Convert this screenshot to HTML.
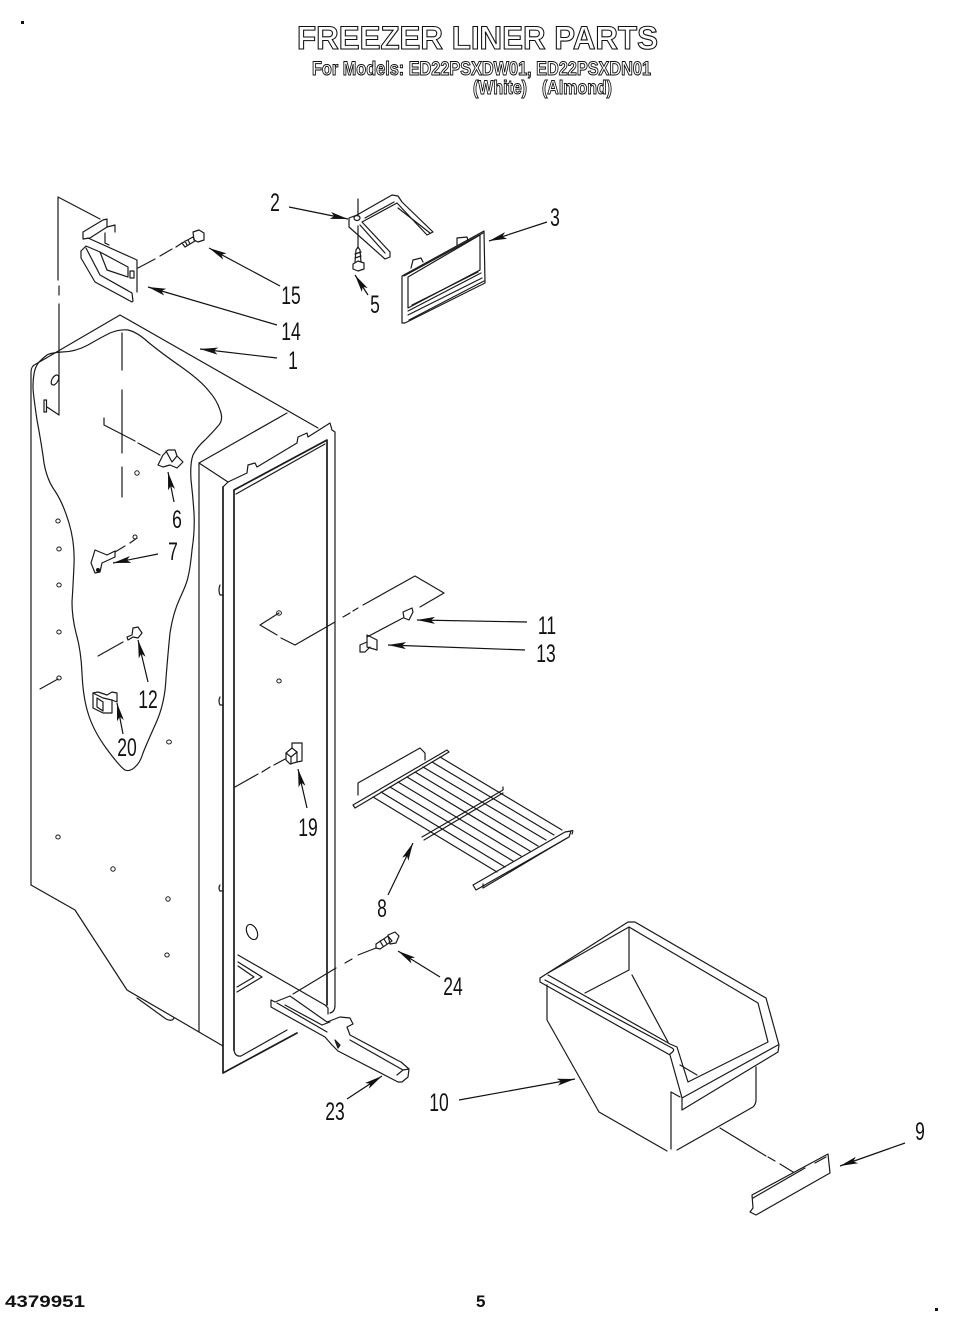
<!DOCTYPE html>
<html><head><meta charset="utf-8"><style>
html,body{margin:0;padding:0;background:#fff}
svg{display:block}
.l{fill:none;stroke:#1a1a1a;stroke-width:1.2;stroke-linejoin:round;stroke-linecap:round}
.t{stroke-width:1.7}
.w{fill:#fff}
.a{fill:none;stroke:#111;stroke-width:1.2;marker-end:url(#h)}
.n{font:25px "Liberation Sans",sans-serif;fill:#111;text-anchor:middle}
.o{font-family:"Liberation Sans",sans-serif;font-weight:700;fill:#fff;stroke:#111}
.b{font:700 17px "Liberation Sans",sans-serif;fill:#111}
</style></head><body>
<svg width="959" height="1333" viewBox="0 0 959 1333" xmlns="http://www.w3.org/2000/svg">
<defs><marker id="h" markerUnits="userSpaceOnUse" markerWidth="19" markerHeight="9" refX="18" refY="4.5" orient="auto"><path d="M0,1 L18,4.5 L0,8 L4,4.5z" fill="#111"/></marker></defs>

<!-- title -->
<text class="o" x="297" y="49" font-size="32" stroke-width="1.1" textLength="361" lengthAdjust="spacingAndGlyphs">FREEZER LINER PARTS</text>
<text class="o" x="312" y="75" font-size="19" stroke-width="1" textLength="339" lengthAdjust="spacingAndGlyphs">For Models: ED22PSXDW01, ED22PSXDN01</text>
<text class="o" x="473" y="94" font-size="19" stroke-width="1" textLength="54" lengthAdjust="spacingAndGlyphs">(White)</text>
<text class="o" x="542" y="94" font-size="19" stroke-width="1" textLength="70" lengthAdjust="spacingAndGlyphs">(Almond)</text>
<rect x="21" y="21" width="3" height="3" fill="#111"/><rect x="935" y="1308" width="3" height="3" fill="#111"/>
<text class="b" x="5" y="1307" textLength="80" lengthAdjust="spacingAndGlyphs">4379951</text>
<text class="b" x="476" y="1307">5</text>

<!-- cabinet -->
<g class="l">
<path d="M31,885 V372 Q31,366 36,364 L120,315 L318,428"/>
<path d="M31,885 L75,910 L127,990 L223,1046"/>
<path d="M137,998 L166,1019 Q172,1022 174,1018"/>
<path d="M199,463 V1032"/>
<path d="M199,463 L287,413 M199,463 L228,482"/>
<path d="M223,487 L228,482 L247,473 L248,465 L255,463 L257,467 L297,443 L298,437 L307,433 L308,437 L330,423 L332,430 L335,432 V1005 Q335,1012 330,1013"/>
<path class="t" d="M223,487 V1073 L297,1033"/>
<path d="M220,585 Q218,590 220,595 H223 M220,697 Q218,701 220,705 H223 M220,885 Q218,888 220,891 H223"/>
<path class="t" d="M234,1050 V490 L327,440 V1005"/>
<path d="M236,494 L325,444"/>
<path d="M234,1050 Q235,1057 241,1056 L287,1030"/>
<path d="M33,387 Q33,380 34,374 Q35,367 39,362 Q43,358 47,355 Q50,353 62,352 Q75,352 88,345 Q100,338 110,333 Q120,329 128,330 Q137,332 148,342 Q160,352 180,366 Q200,380 208,390 Q217,400 220,410 Q224,420 218,426 Q213,432 205,440 Q197,447 193,455 Q190,463 191,480 Q193,497 194,513 Q195,530 192,550 Q190,570 188,577 Q187,583 180,598 Q173,613 170,633 Q168,653 166,678 Q165,703 156,723 Q147,743 143,753 Q140,763 135,767 Q130,772 125,770 Q120,767 106,748 Q93,730 88,713 Q83,697 82,673 Q81,650 76,633 Q72,617 72,602 Q73,587 74,565 Q75,543 69,523 Q63,503 55,491 Q47,480 44,463 Q42,447 37,420 Q33,393 33,387"/>
<!-- recess -->
<path d="M238,955 L325,1005 M238,962 L262,977 L237,992 M238,966 L254,977 L237,987"/>
<ellipse cx="252" cy="932" rx="5" ry="8" transform="rotate(-25 252 932)"/>
<!-- holes -->
<g stroke-width="1">
<ellipse cx="137" cy="473" rx="2.2" ry="2.2"/><ellipse cx="58" cy="521" rx="2.2" ry="2"/><ellipse cx="59" cy="549" rx="2.2" ry="2"/><ellipse cx="59" cy="585" rx="2.2" ry="2"/><ellipse cx="59" cy="632" rx="2.2" ry="2"/><ellipse cx="59" cy="678" rx="2.2" ry="2"/><ellipse cx="279" cy="613" rx="2.4" ry="2.2"/><ellipse cx="279" cy="681" rx="2.2" ry="2"/><ellipse cx="169" cy="742" rx="2.4" ry="2"/><ellipse cx="58" cy="837" rx="2.2" ry="2"/><ellipse cx="113" cy="869" rx="2.2" ry="2.2"/><ellipse cx="168" cy="899" rx="2.2" ry="2.2"/><ellipse cx="167" cy="955" rx="2.2" ry="2"/><ellipse cx="135" cy="537" rx="2" ry="2"/>
</g>
<ellipse cx="55" cy="380" rx="3" ry="5.5" transform="rotate(30 55 380)"/>
<rect x="44" y="400" width="2.5" height="12"/>
<path d="M100,219 L58,197 V280 M59,286 V295 M59,304 V415 L47,407"/>
<path d="M122,333 V370 M122,390 V453 M122,467 V497"/>
<path d="M104,418 V425 L135,441 M138,443 L160,455"/>
<path d="M115,552 L125,546 M130,543 L137,538"/>
<path d="M98,656 L123,642 M40,689 L58,679"/>
<path d="M235,787 L258,774 M262,772 L270,767 M274,765 L287,758"/>
<path d="M260,625 L279,613 M260,625 L277,635 M281,638 L295,645 L335,622 M343,617 L350,613 M353,611 L358,608 M363,605 L415,576 L444,593 L420,607"/>
<path d="M293,994 L336,968 M345,963 L352,959 M358,955 L376,948"/>
</g>

<!-- clip 6 -->
<path class="l w" d="M158,465 L163,455 L168,450 L175,450 L177,456 L183,462 L177,468 L170,465 L163,467z"/>
<path class="l" d="M166,451 L172,462 L177,456"/>
<!-- 7 -->
<path class="l w" d="M95,550 L107,555 L115,551 L115,557 L102,563 L100,572 L95,573 L91,563z"/>
<circle cx="98" cy="570" r="2" fill="#111"/>
<!-- 12 -->
<path class="l" d="M127,637 L132,635 L133,628 L138,627 L142,633 L138,638 L133,637 L128,640z"/>
<!-- 20 -->
<path class="l w" d="M93,693 L98,692 L107,695 L112,692 L117,693 V702 L112,700 V713 L103,713 L93,708z"/>
<path class="l" d="M97,698 V707 L103,711 V702z M93,693 L103,698 L112,700"/>
<!-- 19 -->
<path class="l" d="M292,748 V743 L302,743 V761 L297,762"/>
<path class="l w" d="M286,753 L292,748 L297,752 V762 L290,764 L286,760z"/>
<path class="l" d="M286,753 L291,757 V764 M291,757 L297,752"/>
<!-- 14 bracket -->
<g class="l">
<path d="M83,232 L103,220 L107,219 V227 L90,238 L83,239z"/>
<path d="M88,238 L137,260 V292"/>
<path d="M107,227 L115,225 V232 M105,233 V243 M105,243 L109,245"/>
<path d="M81,251 L86,246 L100,252 L107,270 L128,277 V267 L100,252"/>
<path d="M81,251 V258 L95,282 L132,302 L133,301 L132,293 L100,275 L86,248"/>
<rect x="130" y="271" width="4" height="7"/>
<path d="M138,268 L155,259 M160,256 L172,249 M176,247 L182,243"/>
<!-- screw 15 -->
<path d="M182,243 L193,237 L195,241 L185,247z M185,241 L187,245 M188,240 L190,244"/>
<path d="M193,232 L199,230 L204,233 L204,240 L198,242 L194,240z"/>
</g>
<!-- 2 bracket -->
<g class="l">
<path d="M349,218 L357,215 L392,195 L398,196 L402,202 L433,232 L427,235 L397,203 L362,222 L390,252 L390,257 L385,259 L349,227z"/>
<path d="M360,225 L385,253 M398,208 L430,233 M365,218 L394,202"/>
<path d="M358,199 V216 M358,226 V247"/>
<ellipse cx="357" cy="218" rx="3" ry="2.5"/>
<path d="M355,262 L356,250 L358,247 L360,250 L361,262 M355,254 L361,252 M355,258 L361,256"/>
<path d="M353,264 L358,261 L364,263 V269 L358,271 L353,269z"/>
<!-- frame 3 -->
<path d="M402,276 L484,231 L485,283 L405,323 H402z"/>
<path d="M404,276 L483,233"/>
<path d="M408,277 L480,235 V270 L408,308z"/>
<path d="M408,311 L481,273 M408,315 L482,278 M409,320 L484,281"/>
<path d="M412,305 L478,272"/>
<path d="M411,268 L413,260 L421,258 L423,262 M457,245 V238 L467,237 L468,241"/>
</g>
<!-- 11 13 -->
<g class="l">
<path d="M403,612 L412,608 L413,612 L409,620 L404,618z"/>
<path d="M403,618 L367,637"/>
<path d="M367,635 L377,640 V650 L367,647z"/>
<path d="M367,642 L360,645 V652 L365,652 L370,647"/>
</g>
<!-- shelf -->
<g class="l">
<path d="M353,805 L447,750 L449,752 L355,808z"/>
<path d="M358,795 V783 L420,748 L425,753 V760"/>
<path d="M373,797 L497,872 M381,792 L505,867 M390,787 L513,861 M398,782 L521,856 M407,777 L530,851 M415,772 L538,846 M423,767 L546,840 M432,762 L554,835 M440,757 L562,830"/>
<path d="M422,837 L503,790 V787 M424,840 L503,793"/>
<path d="M473,885 L565,832 L571,831 L569,837 L476,890z"/>
<path d="M483,888 V884 M483,888 L567,838"/>
<path d="M571,831 Q574,829 572,834"/>
</g>
<!-- 23 -->
<g class="l w">
<path d="M271,1000 L275,1002 L290,996 L327,1022 L340,1017 L350,1018 L353,1024 L347,1027 L350,1035 L397,1060 L401,1062 L409,1069 L408,1077 L402,1082 L398,1082 L338,1051 L332,1045 L325,1037 L271,1007z"/>
</g>
<g class="l">
<path d="M285,1005 L322,1025 L330,1022 M277,1003 L327,1032"/>
<path d="M397,1075 L403,1070 L409,1069 M403,1070 L350,1040"/>
<path d="M335,1040 L340,1045 L338,1048z" fill="#333"/>
<path d="M325,1005 L328,1008 V1014"/>
<!-- screw 24 -->
<path d="M376,944 L388,936 L392,941 L380,949 L376,948z M380,941 L383,946 M384,939 L387,944"/>
<path d="M388,935 L395,932 L399,936 L396,943 L390,944z"/>
</g>
<!-- bin -->
<g class="l">
<path d="M547,985 V1020 L599,1112 L667,1151 M677,1150 L753,1107 Q756,1104 756,1100 V1067"/>
<path d="M671,1092 V1149 M671,1092 L680,1097"/>
<path d="M540,978 L628,922 L635,922 L766,998 L779,1045 L778,1052 L682,1110 L682,1098 L670,1055 L540,982z"/>
<path d="M548,973 L629,927 L758,1003 L768,1042 L688,1082 L677,1047 L670,1044 L548,975"/>
<path d="M545,980 L672,1048 Q676,1050 670,1054"/>
<path d="M629,927 V970 L585,993 M632,975 L668,1042"/>
<path d="M680,1065 L697,1075"/>
<path d="M682,1098 L778,1045"/>
<path d="M720,1128 L766,1156 M768,1157 L775,1161 M780,1164 L793,1172"/>
<path d="M752,1195 L828,1154 L830,1173 L756,1215 L750,1212 L753,1208z"/>
<path d="M753,1198 L805,1168 M815,1163 L826,1157"/>
</g>

<!-- arrows -->
<path class="a" d="M289,207 L348,219"/>
<path class="a" d="M547,222 L489,241"/>
<path class="a" d="M280,286 L209,248"/>
<path class="a" d="M277,325 L148,287"/>
<path class="a" d="M277,358 L200,349"/>
<path class="a" d="M368,295 L355,275"/>
<path class="a" d="M174,502 L168,472"/>
<path class="a" d="M158,554 L113,563"/>
<path class="a" d="M527,622 L417,620"/>
<path class="a" d="M525,650 L388,645"/>
<path class="a" d="M148,682 L138,640"/>
<path class="a" d="M123,734 L117,703"/>
<path class="a" d="M307,808 L298,769"/>
<path class="a" d="M388,895 L413,843"/>
<path class="a" d="M440,977 L398,951"/>
<path class="a" d="M347,1099 L382,1076"/>
<path class="a" d="M459,1100 L575,1079"/>
<path class="a" d="M905,1143 L840,1166"/>

<!-- labels -->
<text class="n" transform="translate(275,211) scale(.7,1)">2</text>
<text class="n" transform="translate(555,226) scale(.7,1)">3</text>
<text class="n" transform="translate(291,304) scale(.7,1)">15</text>
<text class="n" transform="translate(291,340) scale(.7,1)">14</text>
<text class="n" transform="translate(293,369) scale(.7,1)">1</text>
<text class="n" transform="translate(375,313) scale(.7,1)">5</text>
<text class="n" transform="translate(177,528) scale(.7,1)">6</text>
<text class="n" transform="translate(173,560) scale(.7,1)">7</text>
<text class="n" transform="translate(547,634) scale(.7,1)">11</text>
<text class="n" transform="translate(546,662) scale(.7,1)">13</text>
<text class="n" transform="translate(148,708) scale(.7,1)">12</text>
<text class="n" transform="translate(127,756) scale(.7,1)">20</text>
<text class="n" transform="translate(308,836) scale(.7,1)">19</text>
<text class="n" transform="translate(382,917) scale(.7,1)">8</text>
<text class="n" transform="translate(453,995) scale(.7,1)">24</text>
<text class="n" transform="translate(335,1120) scale(.7,1)">23</text>
<text class="n" transform="translate(439,1111) scale(.7,1)">10</text>
<text class="n" transform="translate(920,1140) scale(.7,1)">9</text>
</svg>
</body></html>
